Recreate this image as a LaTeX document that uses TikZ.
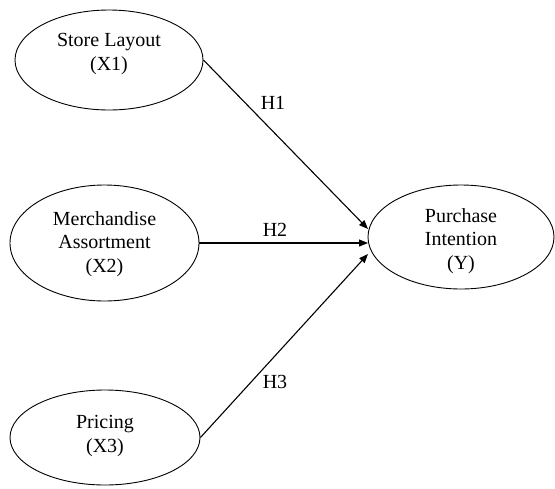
\documentclass[tikz,border=0pt]{standalone}
\usepackage{fontspec}
\setmainfont{Liberation Serif}
\usetikzlibrary{shapes.geometric,arrows.meta}
\begin{document}
\begin{tikzpicture}[x=1pt,y=-1pt,
  var/.style={draw, ellipse, line width=0.9pt, inner sep=0pt},
  vtext/.style={align=center, inner sep=0pt, font=\fontsize{20}{23.5}\selectfont},
  link/.style={line width=1.1pt, -{Triangle[length=9pt,width=7pt]}},
  hlab/.style={font=\fontsize{20}{23.5}\selectfont, inner sep=0pt}]
\useasboundingbox (0,0) rectangle (555,488);
\node[var, minimum width=188pt, minimum height=100pt] (S) at (109,60) {};
\node[vtext] (St) at (109,54) {Store Layout\\(X1)};
\node[var, minimum width=189pt, minimum height=116pt] (M) at (104.5,243) {};
\node[vtext] (Mt) at (104.5,244) {Merchandise\\Assortment\\(X2)};
\node[var, minimum width=190pt, minimum height=95pt] (P) at (105,437.5) {};
\node[vtext] (Pt) at (105,436) {Pricing\\(X3)};
\node[var, minimum width=186pt, minimum height=104pt] (Y) at (461,237) {};
\node[vtext] (Yt) at (461,241) {Purchase\\Intention\\(Y)};
\coordinate (t1) at (368,229);
\coordinate (t2) at (368,243);
\coordinate (t3) at (368,254);
\draw[link] (S.east) -- (t1);
\draw[link] (M.east) -- (t2);
\draw[link] (P.east) -- (t3);
\node[hlab] (h1) at (273,103) {H1};
\node[hlab] (h2) at (275,230) {H2};
\node[hlab] (h3) at (275,382) {H3};
\end{tikzpicture}
\end{document}
